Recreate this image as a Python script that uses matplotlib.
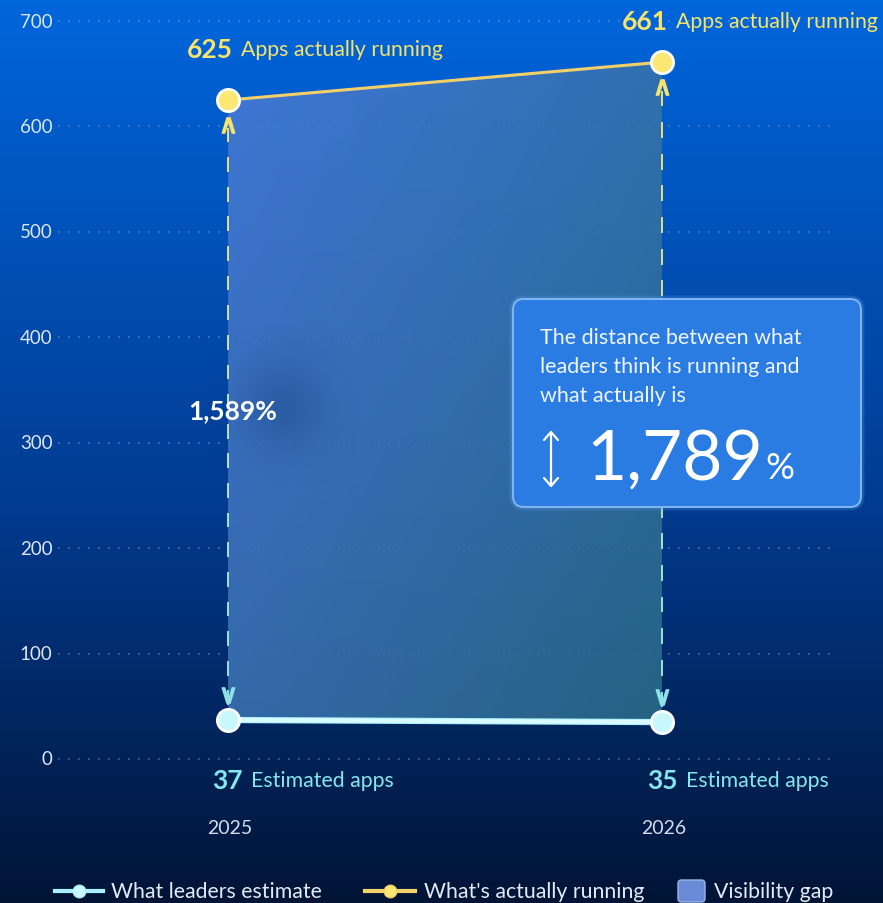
import numpy as np
import matplotlib.pyplot as plt
from matplotlib.patches import Polygon, FancyBboxPatch
from matplotlib.lines import Line2D
import matplotlib.patheffects as pe

plt.rcParams['font.family'] = ['Lato', 'DejaVu Sans']

years = ['2025', '2026']
estimated = [37, 35]
actual = [625, 661]
y_ticks = [0, 100, 200, 300, 400, 500, 600, 700]

CYAN = '#a9f1fb'
CYAN_TXT = '#86e6ee'
YELLOW = '#f6e36a'
YELLOW_LINE = '#f3cf6a'

W, H = 883, 904
fig = plt.figure(figsize=(W / 100, H / 100), dpi=100)

# background: vertical gradient, bright blue on top to navy at the bottom
bg = fig.add_axes([0, 0, 1, 1])
top = np.array([0x00, 0x66, 0xdc]) / 255
mid = np.array([0x02, 0x3c, 0x92]) / 255
bot = np.array([0x01, 0x14, 0x36]) / 255
img = np.empty((256, 3))
for i, tv in enumerate(np.linspace(0, 1, 256)):
    if tv < 0.55:
        img[i] = top + (mid - top) * tv / 0.55
    else:
        img[i] = mid + (bot - mid) * (tv - 0.55) / 0.45
bg.imshow(img[:, None, :], aspect='auto', extent=[0, 1, 0, 1], origin='upper')
bg.set_xlim(0, 1)
bg.set_ylim(0, 1)
bg.set_axis_off()

x = np.arange(len(years))
ax = fig.add_axes([58 / W, (H - 760) / H, (832 - 58) / W, (760 - 22) / H])
ax.patch.set_alpha(0)
ax.set_xlim(-0.392, 1.392)
ax.set_ylim(0, 700)
for s in ax.spines.values():
    s.set_visible(False)
ax.set_xticks([])
ax.set_yticks([])

# dotted grid and y labels
for v in y_ticks:
    ax.plot([-0.392, 1.392], [v, v], linestyle=(0, (1, 5)), color='#7fa6d8',
            lw=1.2, alpha=0.55, zorder=1, clip_on=False)
    ax.text(-0.405, v, str(v), ha='right', va='center', color='#dce6f4',
            fontsize=13.5, clip_on=False)

# visibility gap: gradient clipped to the area between the two series
poly_xy = np.column_stack([np.r_[x, x[::-1]], np.r_[actual, estimated[::-1]]])
poly = Polygon(poly_xy, closed=True, facecolor='none', edgecolor='none')
ax.add_patch(poly)
gx, gy = np.meshgrid(np.linspace(0, 1, 200), np.linspace(0, 1, 200))
d = np.clip(0.55 * gx + 0.45 * gy, 0, 1)[..., None]
c0 = np.array([0x4c, 0x7b, 0xd8]) / 255
c1 = np.array([0x2b, 0x6e, 0x88]) / 255
fill = np.concatenate([c0 + (c1 - c0) * d, np.full(d.shape, 0.85)], axis=2)
im = ax.imshow(fill, extent=[x[0], x[1], 0, 700], origin='upper',
               aspect='auto', zorder=2)
im.set_clip_path(poly)

# soft dark haze behind the left percentage
hx, hy = np.meshgrid(np.linspace(-1, 1, 120), np.linspace(-1, 1, 120))
haze = np.zeros((120, 120, 4))
haze[..., :3] = np.array([0x0a, 0x2a, 0x62]) / 255
haze[..., 3] = 0.25 * np.exp(-(hx ** 2 + hy ** 2) * 3)
ax.imshow(haze, extent=[-0.05, 0.30, 260, 410], aspect='auto', zorder=2.5)

# dashed connectors with chevrons
c_lo = np.array([0x8f, 0xe3, 0xe8]) / 255
c_hi = np.array([0xf4, 0xe0, 0x6a]) / 255
for xi, lo, hi in zip(x, estimated, actual):
    n = 40
    ys = np.linspace(lo + 14, hi - 12, n + 1)
    for k in range(0, n, 2):
        f = k / n
        ax.plot([xi, xi], [ys[k], ys[k + 1]], color=c_lo * (1 - f) + c_hi * f,
                lw=1.4, zorder=3, solid_capstyle='butt')
    ax.plot(xi, hi - 24, marker=r'$\wedge$', color=YELLOW, ms=11, zorder=3)
    ax.plot(xi, lo + 24, marker=r'$\vee$', color='#8fe3e8', ms=11, zorder=3)

# the two series
ax.plot(x, actual, color=YELLOW_LINE, lw=2.2, zorder=4, solid_capstyle='round')
ax.plot(x, actual, 'o', ms=16, mfc='#fbe873', mec='white', mew=2, zorder=5)
ax.plot(x, estimated, color='#d8fbff', lw=3, zorder=4,
        path_effects=[pe.Stroke(linewidth=4.5, foreground=CYAN), pe.Normal()])
ax.plot(x, estimated, 'o', ms=16, mfc='#c6f8fd', mec='white', mew=2, zorder=5)


# point labels: bold number followed by a caption
def value_label(xp, yp, num, txt, color):
    a = ax.annotate(str(num), (xp, yp), xytext=(0, 0), textcoords='offset points',
                    ha='left', va='center', fontsize=19, fontweight='bold',
                    color=color, annotation_clip=False)
    fig.canvas.draw()
    w = a.get_window_extent().width * 72 / fig.dpi
    ax.annotate(txt, (xp, yp), xytext=(w + 6, 0), textcoords='offset points',
                ha='left', va='center', fontsize=15.3, color=color,
                annotation_clip=False)


value_label(-0.095, 673, actual[0], 'Apps actually running', YELLOW)
value_label(0.908, 700, actual[1], 'Apps actually running', YELLOW)
value_label(-0.037, -20, estimated[0], 'Estimated apps', CYAN_TXT)
value_label(0.965, -20, estimated[1], 'Estimated apps', CYAN_TXT)

for xi, yr in zip(x, years):
    ax.text(xi + 0.005, -65, yr, ha='center', va='center', color='#d5dce8',
            fontsize=14, clip_on=False)

# gap percentages computed from the data
gap = [(a - e) / e * 100 for a, e in zip(actual, estimated)]
ax.text(x[0] + 0.01, (actual[0] + estimated[0]) / 2, f'{gap[0]:,.0f}%',
        ha='center', va='center', color='white', fontsize=19, fontweight='bold',
        zorder=6)

# callout box
box = FancyBboxPatch((513 / W, 1 - 508 / H), (861 - 513) / W, (508 - 300) / H,
                     boxstyle='round,pad=0,rounding_size=0.012',
                     transform=fig.transFigure, facecolor='#2a7be2',
                     edgecolor='#7fb4f0', lw=1.5, zorder=10,
                     path_effects=[pe.withStroke(linewidth=5, foreground='#5aa0f0', alpha=0.25)])
fig.add_artist(box)
for i, line in enumerate(['The distance between what',
                          'leaders think is running and',
                          'what actually is']):
    fig.text(540 / W, 1 - (338 + 29 * i) / H, line, color='#eef5ff',
             fontsize=15.5, va='center', ha='left', zorder=11)

# thin double-headed arrow
ax_x = 551 / W
a_top, a_bot = 1 - 433 / H, 1 - 487 / H
arrow_parts = [([ax_x, ax_x], [a_top, a_bot]),
               ([ax_x - 7 / W, ax_x, ax_x + 7 / W], [a_top - 8 / H, a_top, a_top - 8 / H]),
               ([ax_x - 7 / W, ax_x, ax_x + 7 / W], [a_bot + 8 / H, a_bot, a_bot + 8 / H])]
for px, py in arrow_parts:
    fig.add_artist(Line2D(px, py, color='white', lw=1.6, zorder=11,
                          transform=fig.transFigure, solid_capstyle='round'))

big = fig.text(586 / W, 1 - 460 / H, f'{gap[1]:,.0f}', color='white',
               fontsize=50, va='center', ha='left', zorder=11)
fig.canvas.draw()
bb = big.get_window_extent()
fig.text(bb.x1 / W + 2 / W, 1 - 469 / H, '%', color='white', fontsize=26,
         va='center', ha='left', zorder=11)

# legend along the bottom edge
ly = 1 - 892 / H
fig.add_artist(Line2D([55 / W, 103 / W], [ly, ly], color=CYAN, lw=3,
                      transform=fig.transFigure))
fig.add_artist(Line2D([79 / W], [ly], marker='o', ms=9, color='#c6f8fd',
                      mec=CYAN, transform=fig.transFigure))
fig.text(111 / W, ly, 'What leaders estimate', color='#e3e9f2', fontsize=15.3,
         va='center', ha='left')
fig.add_artist(Line2D([365 / W, 415 / W], [ly, ly], color=YELLOW_LINE, lw=3,
                      transform=fig.transFigure))
fig.add_artist(Line2D([390 / W], [ly], marker='o', ms=9, color='#fbe873',
                      mec=YELLOW_LINE, transform=fig.transFigure))
fig.text(424 / W, ly, "What's actually running", color='#e3e9f2', fontsize=15.3,
         va='center', ha='left')
fig.add_artist(FancyBboxPatch((678 / W, ly - 11 / H), 27 / W, 22 / H,
                              boxstyle='round,pad=0,rounding_size=0.004',
                              transform=fig.transFigure, facecolor='#6a8ad8',
                              edgecolor='#9ab4e8', lw=1))
fig.text(714 / W, ly, 'Visibility gap', color='#e3e9f2', fontsize=15.3,
         va='center', ha='left')

fig.savefig('out.png', dpi=100)
